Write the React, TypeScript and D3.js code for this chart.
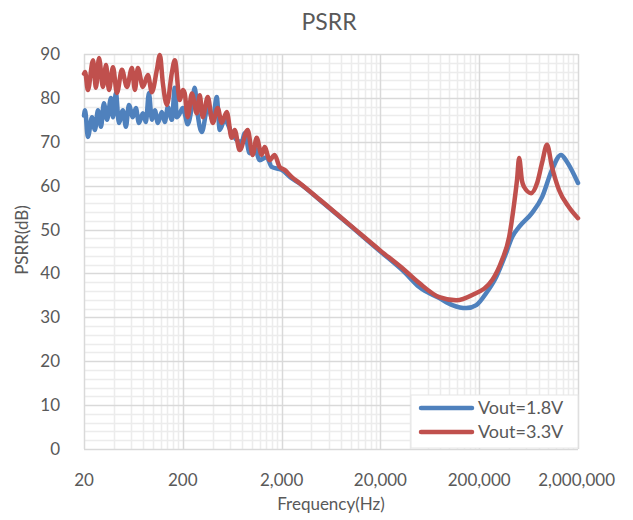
import React, { useEffect, useRef } from "react";
import * as d3 from "d3";

const WIDTH = 633;
const HEIGHT = 520;

// PSRR sweep, Vout = 1.8 V
const freq18 = [
  20, 20.5, 21.9, 24.1, 25.8, 27.7, 29.7, 31.8, 34.2, 37.5, 39.3, 42.1, 45.1, 49.5, 53.1, 57.0,
  62.5, 67.0, 71.9, 78.9, 84.6, 90.7, 97.3, 104.3, 111.9, 122.7, 131.6, 141.1, 154.9, 166.1,
  173.9, 186.5, 200, 209, 224, 247, 264, 280, 311, 358, 402, 441, 473, 531, 625, 702, 789, 846,
  950, 1067, 1199, 1411, 1585, 2000, 2524, 3040, 5000, 10000, 20000, 35000, 49500, 78900,
  107000, 148000, 187000, 235000, 297000, 375000, 431000, 507000, 686000, 865000, 1090000,
  1346000, 1549000, 2000000,
];
const psrr18 = [
  76, 77.2, 71.1, 75.6, 72.7, 77.2, 73.4, 78.8, 75, 80, 75.6, 81.1, 74.3, 77.2, 73.4, 78.4,
  75.6, 77.7, 74.3, 76.5, 74.5, 81.1, 75, 77.2, 74.3, 76.8, 74.5, 77.9, 75, 82.3,
  75.6, 76.5, 77.7, 76.5, 74, 78, 82.3, 77, 72.2, 77.9, 75, 80.2, 72.7, 75, 72, 70.4, 69.9, 72,
  67.4, 68.8, 65.8, 66.5, 64.3, 63.6, 61.7, 60.5, 56.5, 50.8, 45.0, 40.3, 36.9, 34.4,
  32.8, 32.1, 32.8, 35.5, 39.2, 44.7, 48.3, 50.6, 53.8, 57.4, 63.6,
  67.0, 65.4, 60.6,
];

// PSRR sweep, Vout = 3.3 V
const freq33 = [
  20, 20.5, 21.9, 24.7, 26.4, 28.4, 31.1, 33.4, 35.8, 39.3, 43.1, 48.4, 54.4, 61.1, 65.5, 70.2,
  78.9, 88.6, 97.3, 109.3, 117.2, 125.6, 137.9, 154.9, 166.1, 186.5, 200, 209, 224, 247, 277,
  297, 318, 358, 402, 451, 495, 557, 625, 670, 753, 907, 1019, 1118, 1256, 1347, 1513, 1700,
  1909, 2143, 2524, 3040, 5000, 10000, 20000, 35000, 49500, 78900, 117000, 170000, 271000,
  341000, 402000, 452000, 484000, 507000, 543000, 570000, 670000, 771000, 865000, 972000,
  1090000, 1285000, 1622000, 2000000,
];
const psrr33 = [
  85.5, 85.9, 81.8, 88.6, 82.3, 89.1, 82.5, 87.5, 81.8, 87, 81.1, 86.4, 82.5, 86.8, 81.8, 86.8,
  82.5, 85.2, 81.3, 86.4, 89.8, 83.4, 78.4, 85.7, 88.6, 79.5, 81.8, 81.1, 75.6, 81, 76.5,
  80.6, 75.6, 80.2, 74.3, 77.7, 74.3, 76.8, 70.9, 72.7, 68.1, 72.7, 67, 70.9, 67, 68.8, 65.8, 67,
  64.3, 63.6, 62, 60.6, 56.6, 50.9, 45.2, 40.8, 37.8, 34.6, 33.9, 35.1, 38.5,
  43.1, 48.3, 56.0, 61.5, 66.3, 61, 59.7, 58.3, 60.6, 65.2, 69.3,
  64.3, 59.0, 55.1, 52.6,
];

const seriesNames = ["Vout=1.8V", "Vout=3.3V"];
const seriesColors = ["#4F81BD", "#C0504D"];

const xTicks = [20, 200, 2000, 20000, 200000, 2000000];
const xMinorMultipliers = [2, 3, 4, 5, 6, 7, 8, 9];
const yTicks = [0, 10, 20, 30, 40, 50, 60, 70, 80, 90];
const yMinorStep = 2;

const chartTitle = "PSRR";
const xTitle = "Frequency(Hz)";
const yTitle = "PSRR(dB)";

const FONT = "Lato, 'Open Sans', sans-serif";
const TEXT = "#595959";

export default function App() {
  const ref = useRef<SVGSVGElement | null>(null);

  useEffect(() => {
    document.body.style.margin = "0";
    const svg = d3.select(ref.current);
    svg.selectAll("*").remove();

    const plot = { left: 84, right: 578, top: 54, bottom: 449 };
    const x = d3.scaleLog().domain([20, 2000000]).range([plot.left, plot.right]);
    const y = d3.scaleLinear().domain([0, 90]).range([plot.bottom, plot.top]);

    svg.append("rect").attr("width", WIDTH).attr("height", HEIGHT).attr("fill", "#ffffff");

    // minor grid
    const g = svg.append("g");
    const minorX: number[] = [];
    xTicks.slice(0, -1).forEach((d) => xMinorMultipliers.forEach((m) => minorX.push(d * m)));
    g.selectAll("line.mx")
      .data(minorX)
      .join("line")
      .attr("x1", (d) => Math.round(x(d)) + 0.5)
      .attr("x2", (d) => Math.round(x(d)) + 0.5)
      .attr("y1", plot.top)
      .attr("y2", plot.bottom)
      .attr("stroke", "#ececec")
      .attr("stroke-width", 1.5);
    const minorY = d3.range(0, 90 + 0.001, yMinorStep).filter((v) => v % 10 !== 0);
    g.selectAll("line.my")
      .data(minorY)
      .join("line")
      .attr("x1", plot.left)
      .attr("x2", plot.right)
      .attr("y1", (d) => Math.round(y(d)) + 0.5)
      .attr("y2", (d) => Math.round(y(d)) + 0.5)
      .attr("stroke", "#ececec")
      .attr("stroke-width", 1.5);

    // major grid
    g.selectAll("line.Mx")
      .data(xTicks)
      .join("line")
      .attr("x1", (d) => Math.round(x(d)) + 0.5)
      .attr("x2", (d) => Math.round(x(d)) + 0.5)
      .attr("y1", plot.top)
      .attr("y2", plot.bottom)
      .attr("stroke", "#d9d9d9")
      .attr("stroke-width", 1.5);
    g.selectAll("line.My")
      .data(yTicks)
      .join("line")
      .attr("x1", plot.left)
      .attr("x2", plot.right)
      .attr("y1", (d) => Math.round(y(d)) + 0.5)
      .attr("y2", (d) => Math.round(y(d)) + 0.5)
      .attr("stroke", "#d9d9d9")
      .attr("stroke-width", 1.5);

    // series
    const line = d3
      .line<[number, number]>()
      .x((d) => x(d[0]))
      .y((d) => y(d[1]))
      .curve(d3.curveMonotoneX);
    const series: [number, number][][] = [
      freq18.map((f, i) => [f, psrr18[i]]),
      freq33.map((f, i) => [f, psrr33[i]]),
    ];
    series.forEach((pts, i) => {
      svg
        .append("path")
        .attr("d", line(pts))
        .attr("fill", "none")
        .attr("stroke", seriesColors[i])
        .attr("stroke-width", 4.5)
        .attr("stroke-linejoin", "round")
        .attr("stroke-linecap", "round");
    });

    // y tick labels
    svg
      .selectAll("text.yt")
      .data(yTicks)
      .join("text")
      .attr("x", 60)
      .attr("y", (d) => y(d))
      .attr("dy", "0.35em")
      .attr("text-anchor", "end")
      .attr("font-family", FONT)
      .attr("font-size", 17)
      .attr("fill", TEXT)
      .text((d) => d3.format("d")(d));

    // x tick labels, kept inside the right edge
    const xt = svg
      .selectAll<SVGTextElement, number>("text.xt")
      .data(xTicks)
      .join("text")
      .attr("x", (d) => x(d))
      .attr("y", 486)
      .attr("text-anchor", "middle")
      .attr("font-family", FONT)
      .attr("font-size", 17)
      .attr("fill", TEXT)
      .text((d) => d3.format(",")(d));
    xt.each(function (d) {
      const w = this.getComputedTextLength();
      const cx = Math.min(x(d), 615 - w / 2);
      d3.select(this).attr("x", cx);
    });

    // titles
    svg
      .append("text")
      .attr("x", 329)
      .attr("y", 30)
      .attr("text-anchor", "middle")
      .attr("font-family", FONT)
      .attr("font-size", 23)
      .attr("fill", TEXT)
      .text(chartTitle);
    svg
      .append("text")
      .attr("x", 331)
      .attr("y", 510)
      .attr("text-anchor", "middle")
      .attr("font-family", FONT)
      .attr("font-size", 17)
      .attr("fill", TEXT)
      .text(xTitle);
    svg
      .append("text")
      .attr("transform", "translate(28,240) rotate(-90)")
      .attr("text-anchor", "middle")
      .attr("font-family", FONT)
      .attr("font-size", 17)
      .attr("fill", TEXT)
      .text(yTitle);

    // legend
    const lg = svg.append("g");
    lg.append("rect")
      .attr("x", 411)
      .attr("y", 395)
      .attr("width", 167)
      .attr("height", 53)
      .attr("fill", "#ffffff")
      .attr("stroke", "#e6e6e6");
    seriesNames.forEach((name, i) => {
      const ly = 408 + i * 24;
      lg.append("line")
        .attr("x1", 421)
        .attr("x2", 472)
        .attr("y1", ly)
        .attr("y2", ly)
        .attr("stroke", seriesColors[i])
        .attr("stroke-width", 4.5)
        .attr("stroke-linecap", "round");
      lg.append("text")
        .attr("x", 478)
        .attr("y", ly)
        .attr("dy", "0.35em")
        .attr("font-family", FONT)
        .attr("font-size", 18)
        .attr("fill", TEXT)
        .text(name);
    });
  }, []);

  return (
    <svg
      ref={ref}
      width={WIDTH}
      height={HEIGHT}
      style={{ position: "absolute", left: 0, top: 0, display: "block" }}
    />
  );
}
